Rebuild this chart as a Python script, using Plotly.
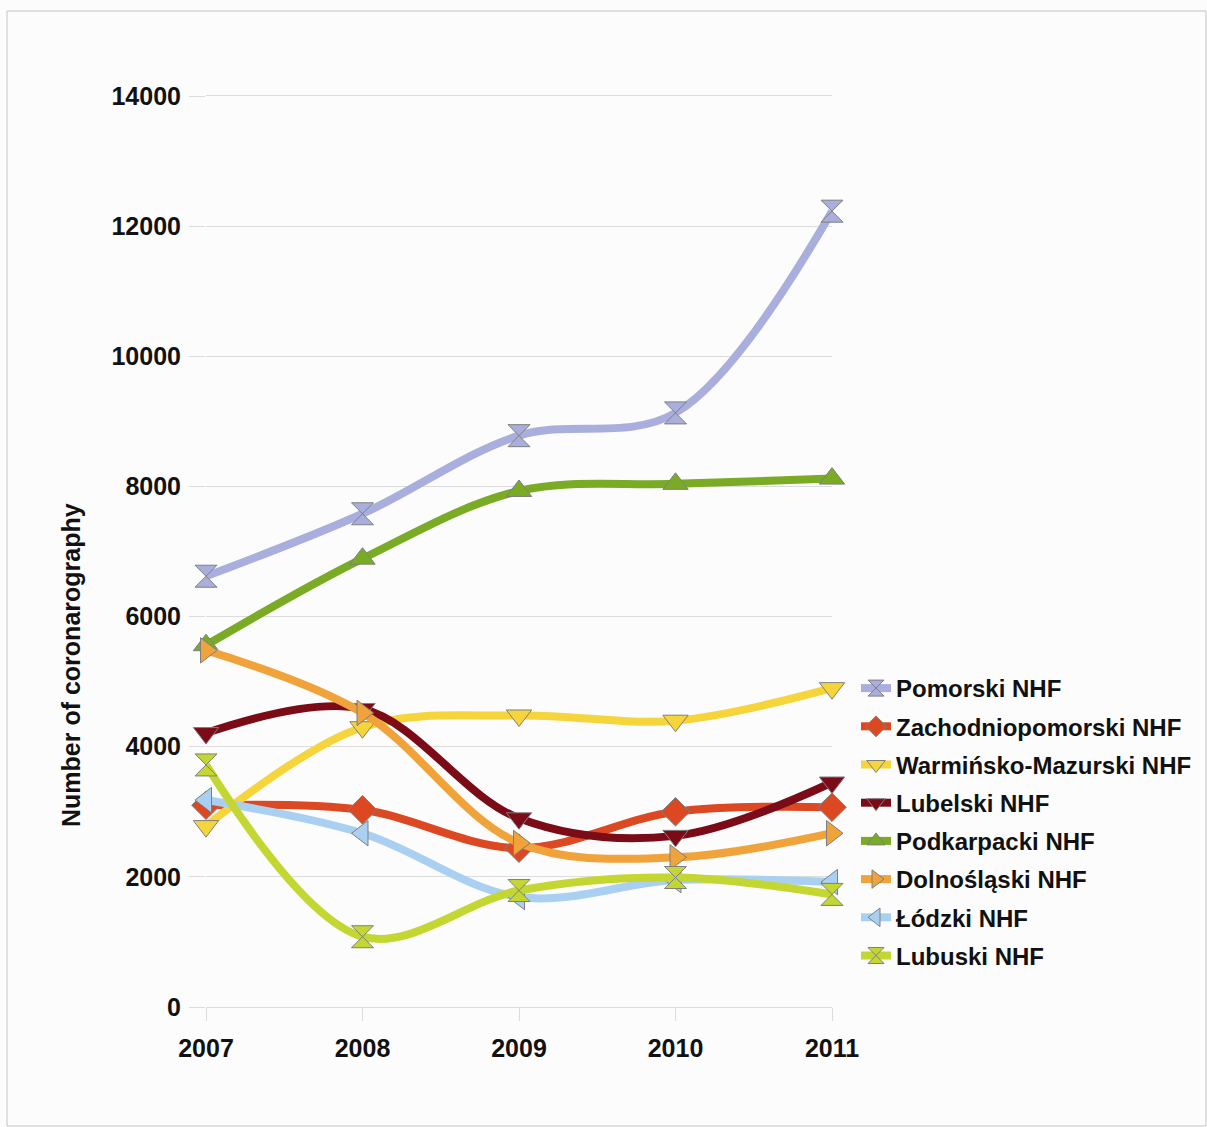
import plotly.graph_objects as go

years = [2007, 2008, 2009, 2010, 2011]
series_names = ["Pomorski NHF", "Zachodniopomorski NHF", "Warmińsko-Mazurski NHF",
                "Lubelski NHF", "Podkarpacki NHF", "Dolnośląski NHF", "Łódzki NHF", "Lubuski NHF"]
pomorski = [6620, 7580, 8780, 9130, 12230]
zachodniopomorski = [3100, 3030, 2440, 3000, 3070]
warminsko = [2780, 4300, 4480, 4400, 4900]
lubelski = [4210, 4580, 2900, 2630, 3450]
podkarpacki = [5560, 6890, 7930, 8040, 8120]
dolnoslaski = [5480, 4520, 2520, 2300, 2670]
lodzki = [3180, 2670, 1690, 1950, 1920]
lubuski = [3720, 1080, 1790, 1990, 1730]
y_ticks = [0, 2000, 4000, 6000, 8000, 10000, 12000, 14000]

values = [pomorski, zachodniopomorski, warminsko, lubelski, podkarpacki, dolnoslaski, lodzki, lubuski]
colors = ["#a9aedc", "#dc4821", "#f6d43c", "#7b0b16", "#79ab24", "#f0a33b", "#a9d0f1", "#c3d631"]
symbols = ["hourglass", "diamond", "triangle-down", "triangle-down", "triangle-up",
           "triangle-right", "triangle-left", "hourglass"]

FONT = "Liberation Sans, Arial, sans-serif"

fig = go.Figure()
for i, (name, vals) in enumerate(zip(series_names, values)):
    fig.add_trace(go.Scatter(
        x=years, y=vals, name=name, mode="lines+markers",
        line=dict(color=colors[i], width=8, shape="spline", smoothing=1.0),
        marker=dict(symbol=symbols[i], size=22, color=colors[i],
                    line=dict(color="#7f7f7f", width=1)),
        cliponaxis=False, legendgroup=f"g{i}",
    ))

L, R, T, B = 206, 832, 96, 1007
W, H = 1207, 1127

def px_x(p):
    return (p - L) / (R - L)

def px_y(p):
    return (B - p) / (B - T)

fig.update_layout(
    width=W, height=H,
    margin=dict(l=L, r=W - R, t=T, b=H - B, pad=0, autoexpand=False),
    paper_bgcolor="#fcfcfc", plot_bgcolor="#fcfcfc",
    font=dict(family=FONT, size=24, color="#111111"),
    showlegend=True,
    legend=dict(
        x=px_x(856), y=px_y(666), xanchor="left", yanchor="top",
        font=dict(family=FONT, size=24, color="#111111", weight="bold"),
        bgcolor="rgba(0,0,0,0)", tracegroupgap=4, itemwidth=30,
    ),
    xaxis=dict(
        range=[2007, 2011], tickvals=years, ticktext=[str(y) for y in years],
        showgrid=False, zeroline=False, showline=True, linecolor="#dcdcdc", linewidth=1,
        mirror=True, ticks="outside", ticklen=13, tickcolor="#dcdcdc",
        ticklabelstandoff=6,
        tickfont=dict(family=FONT, size=25, color="#111111", weight="bold"),
    ),
    yaxis=dict(
        range=[0, 14000], tickvals=y_ticks, ticktext=[str(v) for v in y_ticks],
        showgrid=True, gridcolor="#dcdcdc", gridwidth=1, zeroline=False,
        showline=False, ticks="outside", ticklen=16, tickcolor="#dcdcdc",
        ticklabelstandoff=3,
        tickfont=dict(family=FONT, size=25, color="#111111", weight="bold"),
    ),
    annotations=[dict(
        text="Number of coronarography", xref="paper", yref="paper",
        x=px_x(71), y=px_y(665), xanchor="center", yanchor="middle",
        textangle=-90, showarrow=False,
        font=dict(family=FONT, size=25, color="#111111", weight="bold"),
    )],
    shapes=[dict(
        type="rect", xref="paper", yref="paper",
        x0=px_x(7), x1=px_x(1206), y0=px_y(1126), y1=px_y(11),
        line=dict(color="#c4c4c4", width=1), fillcolor="rgba(0,0,0,0)", layer="below",
    )],
)

fig.write_html("out.html")
